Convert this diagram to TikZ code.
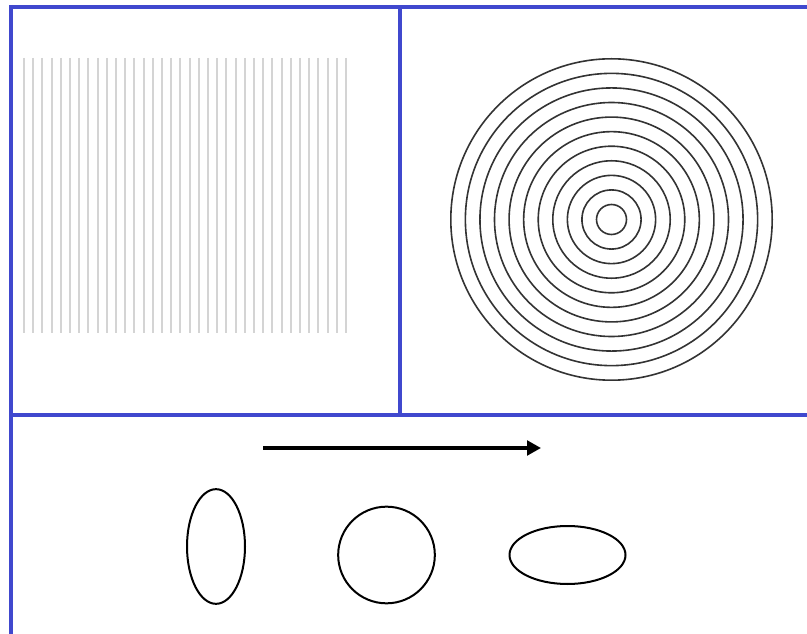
\documentclass[tikz,border=0pt]{standalone}
\usetikzlibrary{arrows.meta, shapes.geometric, positioning}
\definecolor{frameblue}{RGB}{64,72,206}

\begin{document}
\begin{tikzpicture}[x=0.75pt, y=-0.75pt, >=Triangle]
        % Styles
        \tikzstyle{frame} = [draw=frameblue, line width=3.4pt]
        \tikzstyle{bar} = [draw=black!17, line width=1.4pt]
        \tikzstyle{ring} = [draw=black!80, line width=1.2pt]
        \tikzstyle{blob} = [draw, ellipse, line width=1.5pt, inner sep=0pt, outer sep=0pt]
        \useasboundingbox (0,0) rectangle (807,634);

        % Frame
        \draw[frame] (9,7) -- (807,7);
        \draw[frame] (11,5) -- (11,634);
        \draw[frame] (400,7) -- (400,415);
        \draw[frame] (9,415) -- (807,415);

        % Grating
        \foreach \i in {0,...,35}
            \draw[bar] (24+\i*9.2,58) -- (24+\i*9.2,333);

        % Rings
        \foreach \k in {0,...,10}
            \draw[ring] (611.5,219.5) circle ({15+\k*14.57});

        % Arrow
        \coordinate (tail) at (263,448);
        \coordinate (head) at (541,448);
        \draw[-{Triangle[length=10.5pt,width=11pt]}, line width=2.4pt] (tail) -- (head);

        % Nodes
        \node[blob, minimum width=43.5pt, minimum height=86pt] (tall) at (216,546.5) {};
        \node[blob, circle, minimum size=72.5pt] (round) at (386.5,555) {};
        \node[blob, minimum width=87pt, minimum height=43.5pt] (wide) at (567.5,555) {};
\end{tikzpicture}
\end{document}
